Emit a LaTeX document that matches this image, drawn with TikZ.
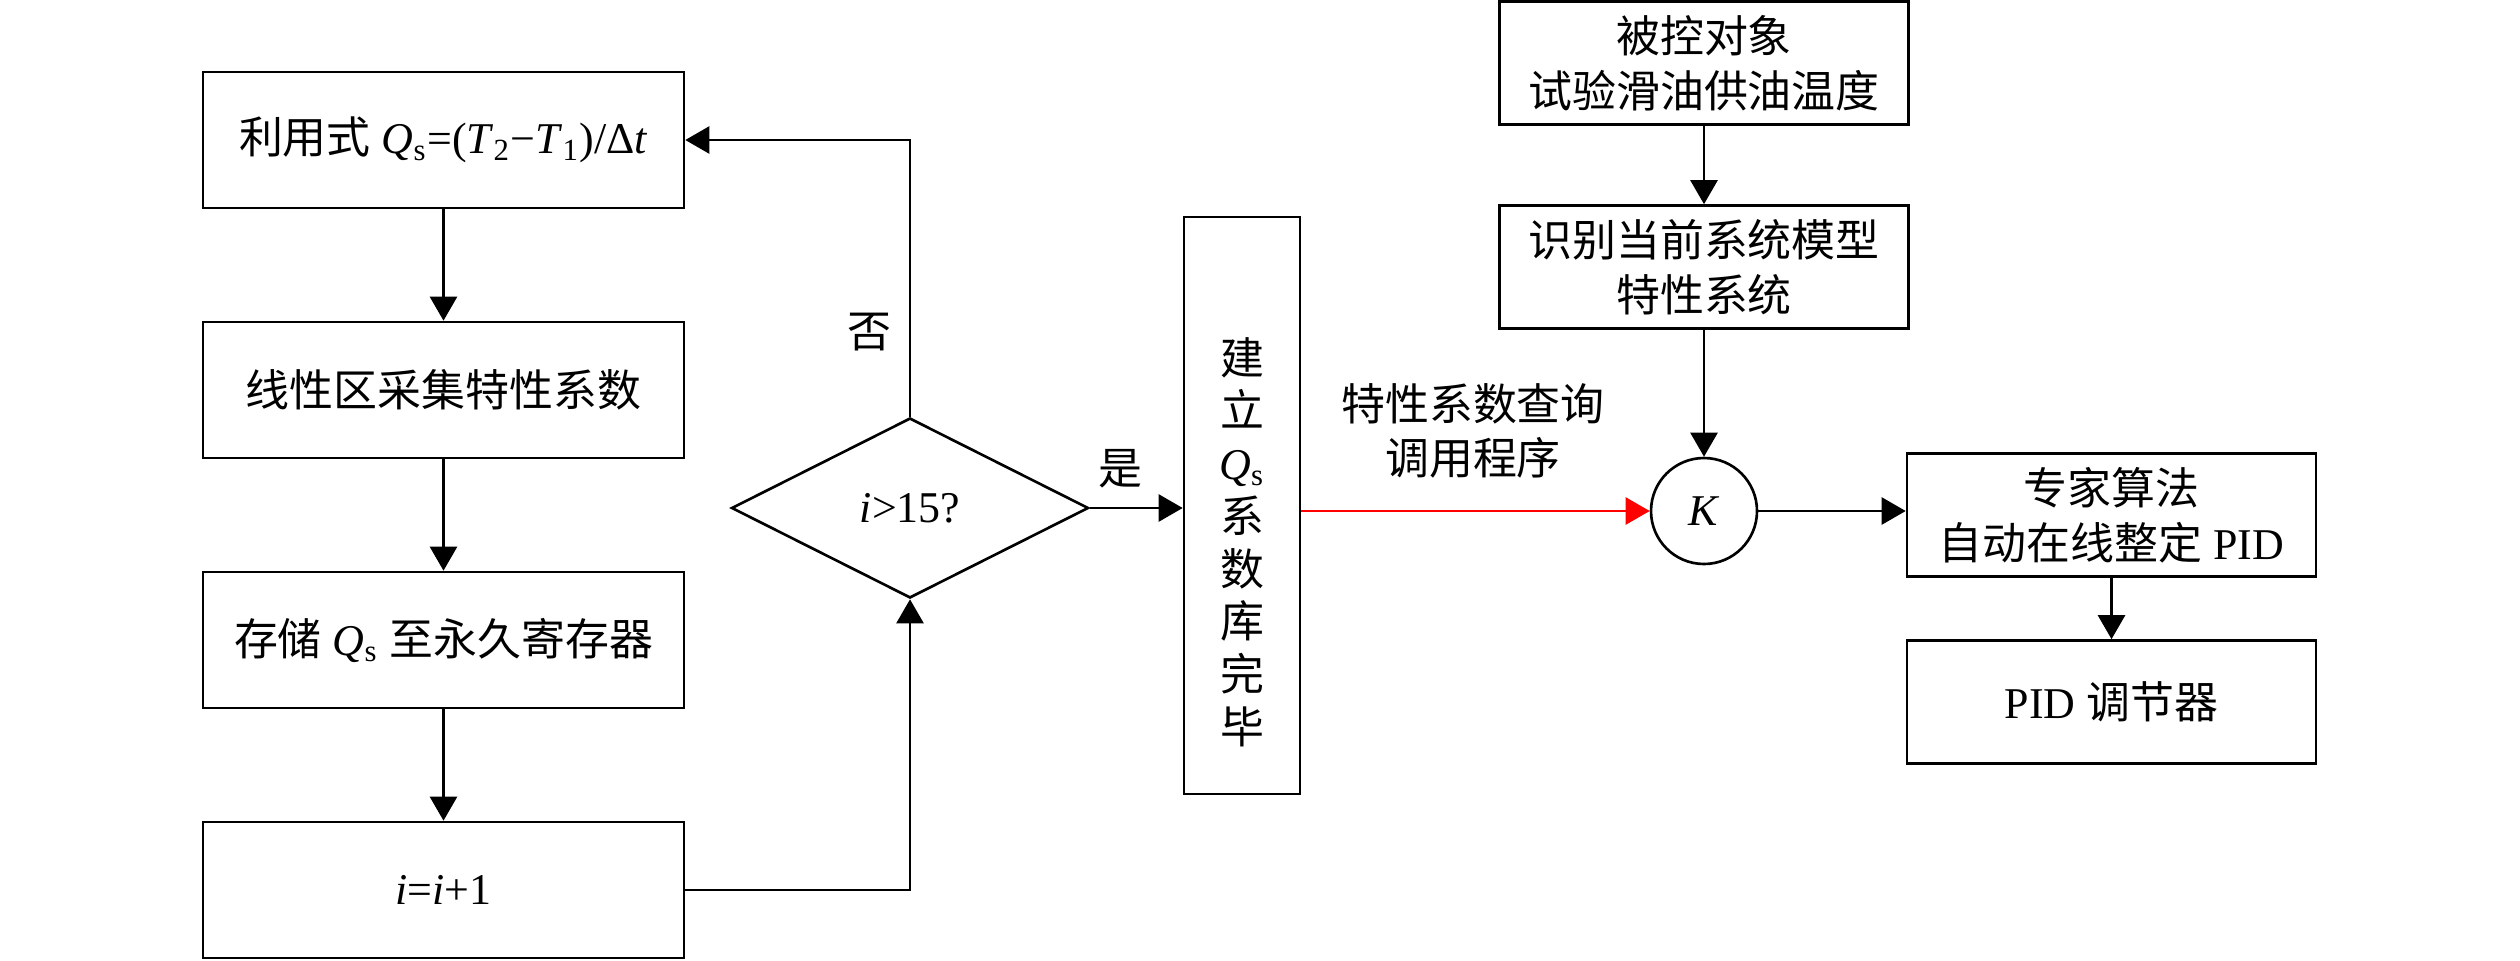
\documentclass[tikz,border=0pt]{standalone}
\usepackage{fontspec}
\setmainfont{Liberation Serif}
\newfontfamily\cjk{Noto Sans CJK SC}
\usepackage{tikz}
\usetikzlibrary{positioning, arrows.meta, shapes.geometric}
\newcommand{\zh}[1]{{\cjk #1}}
\newcommand{\Qs}{\textit{Q}\textsubscript{s}}

\begin{document}
\begin{tikzpicture}[
  >={Triangle[length=0.24cm,width=0.27cm]},
  every node/.style={font=\fontsize{12.5pt}{15.5pt}\selectfont},
  box/.style={draw, line width=0.75pt, minimum width=4.81cm, minimum height=1.36cm, align=center},
  rbox/.style={draw, line width=0.75pt, minimum width=4.09cm, minimum height=1.23cm, align=center},
  link/.style={line width=0.75pt, ->}]
\useasboundingbox (0,0) rectangle (25.2,9.6);
% left column
\node[box] (calc) at (4.435,8.20) {\zh{利用式} \Qs=(\textit{T}\textsubscript{2}−\textit{T}\textsubscript{1})/Δ\textit{t}};
\node[box] (collect) at (4.435,5.70) {\zh{线性区采集特性系数}};
\node[box] (store) at (4.435,3.20) {\zh{存储} \Qs\ \zh{至永久寄存器}};
\node[box] (incr) at (4.435,0.70) {\textit{i}=\textit{i}+1};
\node[draw, diamond, line width=0.75pt, inner sep=0pt, minimum width=3.57cm, minimum height=1.80cm] (test) at (9.10,4.52) {\textit{i}>15?};
\node (no) at (8.69,6.28) {\zh{否}};
\node (yes) at (11.20,4.91) {\zh{是}};
% database
\node[draw, line width=0.75pt, minimum width=1.16cm, minimum height=5.77cm] (db) at (12.42,4.545) {};
\node[align=center, font=\fontsize{12.5pt}{15pt}\selectfont] (dbtxt) at (12.42,4.18) {\zh{建}\\\zh{立}\\\Qs\\\zh{系}\\\zh{数}\\\zh{库}\\\zh{完}\\\zh{毕}};
% right part
\node[rbox] (plant) at (17.04,8.97) {\zh{被控对象}\\\zh{试验滑油供油温度}};
\node[rbox] (ident) at (17.04,6.93) {\zh{识别当前系统模型}\\\zh{特性系统}};
\node[draw, circle, line width=0.75pt, minimum size=1.06cm, inner sep=0pt] (kk) at (17.04,4.49) {\textit{K}};
\node[align=center] (query) at (14.73,5.29) {\zh{特性系数查询}\\\zh{调用程序}};
\node[rbox] (expert) at (21.115,4.45) {\zh{专家算法}\\\zh{自动在线整定} PID};
\node[rbox] (pid) at (21.115,2.58) {PID \zh{调节器}};

\draw[link] (calc) -- (collect);
\draw[link] (collect) -- (store);
\draw[link] (store) -- (incr);
\draw[link] (incr.east) -| (test.south);
\draw[link] (test.north) |- (calc.east);
\draw[link] (test.east) -- (test.east -| db.west);
\draw[link, red] (db.east |- kk.west) -- (kk.west);
\draw[link] (plant) -- (ident);
\draw[link] (ident) -- (kk);
\draw[link] (kk) -- (kk -| expert.west);
\draw[link] (expert) -- (pid);
\end{tikzpicture}
\end{document}
